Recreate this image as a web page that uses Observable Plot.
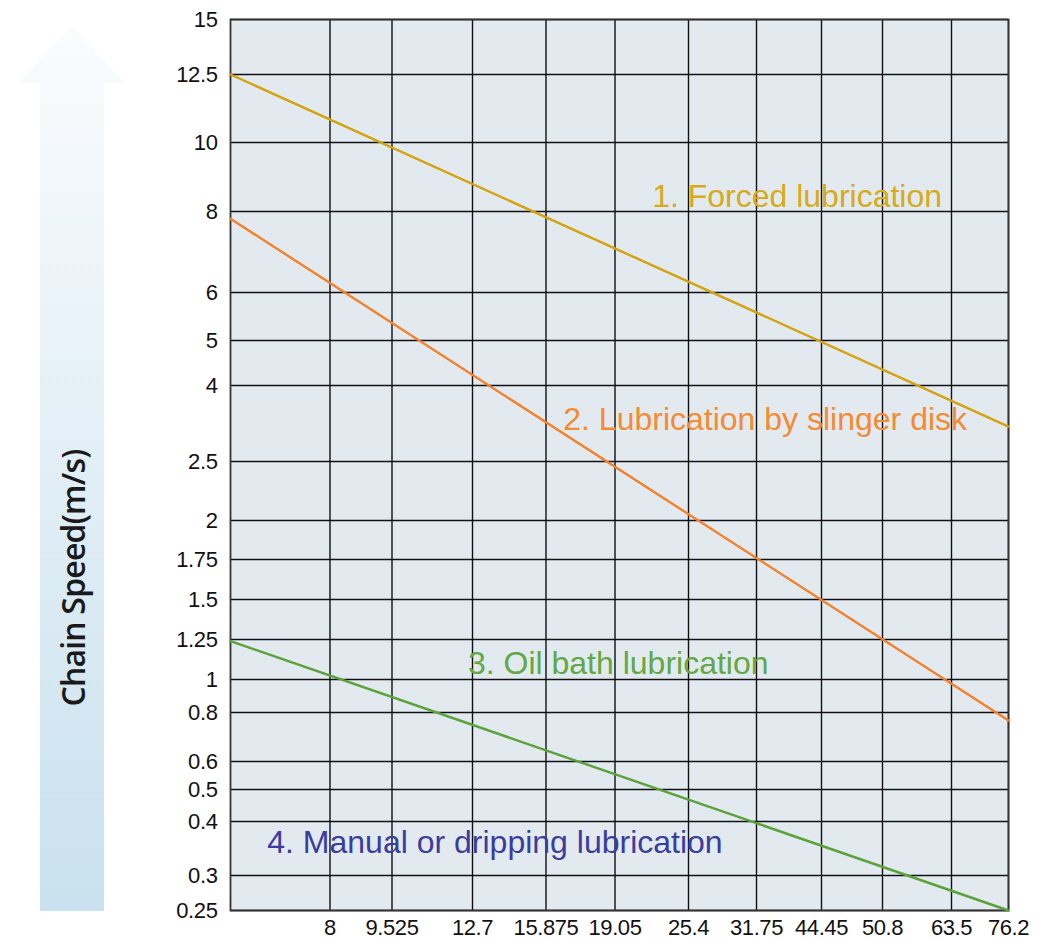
<!DOCTYPE html>
<html>
<head>
<meta charset="utf-8">
<script src="https://cdn.jsdelivr.net/npm/d3@7"></script>
<script src="https://cdn.jsdelivr.net/npm/@observablehq/plot@0.6"></script>
<style>
  html, body { margin: 0; padding: 0; background: #ffffff; }
  #chart { width: 1052px; height: 940px; }
  #chart svg g[aria-label$="axis tick label"] text { letter-spacing: -0.4px; }
</style>
</head>
<body>
<div id="chart"></div>
<script>
// ---- data ----
const pitchTicks = [8, 9.525, 12.7, 15.875, 19.05, 25.4, 31.75, 44.45, 50.8, 63.5, 76.2];
const pitchDomain = [6.35, 8, 9.525, 12.7, 15.875, 19.05, 25.4, 31.75, 44.45, 50.8, 63.5, 76.2];
const speedTicks = [0.25, 0.3, 0.4, 0.5, 0.6, 0.8, 1, 1.25, 1.5, 1.75, 2, 2.5, 4, 5, 6, 8, 10, 12.5, 15];

const seriesNames = ["Forced", "Slinger", "Oil bath"];
const startPitch = [6.35, 6.35, 6.35];
const endPitch = [76.2, 76.2, 76.2];
const startSpeed = [12.5, 7.82, 1.24];
const endSpeed = [3.19, 0.767, 0.25];

const labelText = ["1. Forced lubrication", "2. Lubrication by slinger disk", "3. Oil bath lubrication", "4. Manual or dripping lubrication"];
const labelPitch = [22.26, 16.67, 12.52, 6.96];
const labelSpeed = [8.44, 3.32, 1.10, 0.3615];

const yAxisTitle = "Chain Speed(m/s)";

// ---- styling / layout ----
const lineColors = ["#d4a20a", "#f4812a", "#5aa23a"];
const textColors = ["#d7aa18", "#f58a30", "#62a845", "#3a3d9c"];

// hand-drawn nonuniform grid: piecewise scale ranges (pixels)
const xRange = [230, 329.5, 391.5, 472, 545.5, 614.5, 688, 756, 821, 882, 951, 1008];
const yRange = [910, 875, 821, 789, 761, 712, 679, 639, 599, 559, 520, 461, 385, 340, 292, 211, 142, 74, 19];

const lines = [];
seriesNames.forEach((s, i) => {
  lines.push({series: s, pitch: startPitch[i], speed: startSpeed[i]});
  lines.push({series: s, pitch: endPitch[i], speed: endSpeed[i]});
});
const labels = labelText.map((t, i) => ({text: t, pitch: labelPitch[i], speed: labelSpeed[i], color: textColors[i]}));

function arrowMark(index, scales, values, dims) {
  const g = d3.create("svg:g");
  const defs = g.append("defs");
  const grad = defs.append("linearGradient").attr("id", "arrowGrad")
    .attr("x1", 0).attr("y1", 0).attr("x2", 0).attr("y2", 1);
  grad.append("stop").attr("offset", "0%").attr("stop-color", "#fafcfe");
  grad.append("stop").attr("offset", "100%").attr("stop-color", "#c9e1ee");
  const top = 25, headBase = 83, bottom = 911, cx = 72;
  g.append("polygon")
    .attr("points", [[cx, top], [124, headBase], [104, headBase], [104, bottom], [40, bottom], [40, headBase], [19, headBase]].map(p => p.join(",")).join(" "))
    .attr("fill", "url(#arrowGrad)");
  g.append("text")
    .attr("transform", `translate(${cx + 1},578) rotate(-90)`)
    .attr("text-anchor", "middle")
    .attr("dy", "0.36em")
    .attr("font-family", "'Open Sans', 'Noto Sans', sans-serif")
    .attr("font-size", 32)
    .attr("font-weight", 600)
    .attr("letter-spacing", "-0.8px")
    .attr("fill", "#1a1a1a")
    .text(yAxisTitle);
  return g.node();
}

const chart = Plot.plot({
  width: 1052,
  height: 940,
  marginLeft: 230,
  marginRight: 44,
  marginTop: 19,
  marginBottom: 30,
  style: {fontFamily: "'Liberation Sans', Arial, sans-serif", fontSize: "22px", background: "#ffffff", color: "#111"},
  x: {type: "linear", domain: pitchDomain, range: xRange},
  y: {type: "linear", domain: speedTicks, range: yRange},
  marks: [
    arrowMark,
    Plot.frame({fill: "#e2eaf0", stroke: null}),
    Plot.gridX(pitchTicks, {stroke: "#111", strokeOpacity: 1, strokeWidth: 1.4}),
    Plot.gridY(speedTicks, {stroke: "#111", strokeOpacity: 1, strokeWidth: 1.4}),
    Plot.frame({stroke: "#333", strokeWidth: 1.8}),
    Plot.axisX(pitchTicks, {anchor: "bottom", tickSize: 0, tickPadding: 9, fontSize: 22, tickFormat: d => String(d), label: null, fill: "#111"}),
    Plot.axisY(speedTicks, {anchor: "left", tickSize: 0, tickPadding: 13, fontSize: 22, tickFormat: d => String(d), label: null, fill: "#111"}),
    Plot.line(lines, {x: "pitch", y: "speed", z: "series", stroke: d => lineColors[seriesNames.indexOf(d.series)], strokeWidth: 2.4}),
    Plot.text(labels, {x: "pitch", y: "speed", text: "text", fill: "color", fontSize: 32, textAnchor: "start"})
  ]
});
document.getElementById("chart").appendChild(chart);
</script>
</body>
</html>
